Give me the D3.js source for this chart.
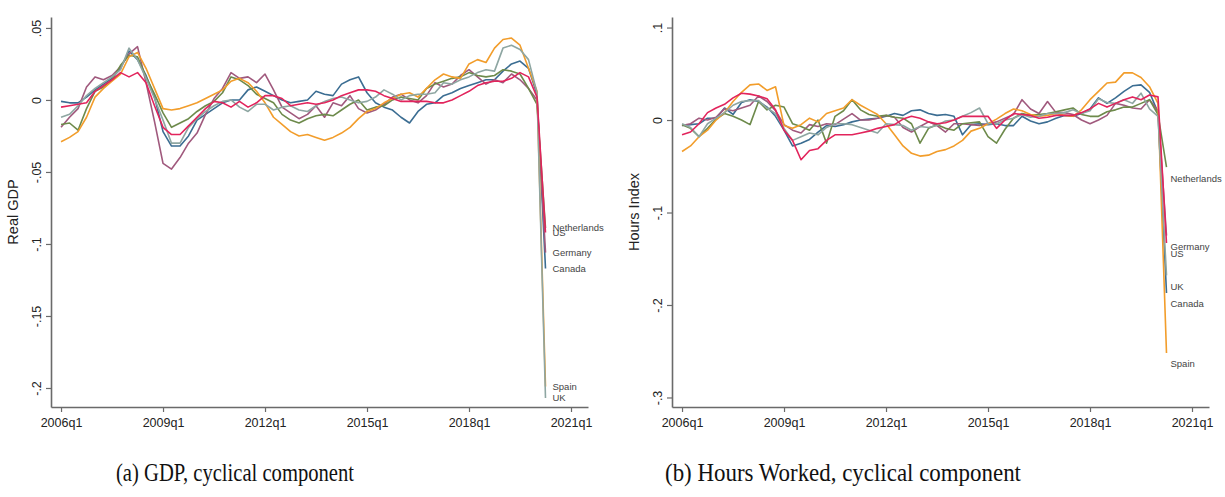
<!DOCTYPE html>
<html><head><meta charset="utf-8">
<script src="https://cdn.jsdelivr.net/npm/d3@7/dist/d3.min.js"></script>
<style>body{margin:0;background:#fff}svg{display:block}</style>
</head><body>
<svg id="c" width="1225" height="497"></svg>
<script>
// ---------- data ----------
const countries = ["Canada","Germany","Netherlands","Spain","UK","US"];
const xTickValues = [0,12,24,36,48,60];
const xTickLabels = ["2006q1","2009q1","2012q1","2015q1","2018q1","2021q1"];
const gdpTicks = [-0.2,-0.15,-0.1,-0.05,0,0.05];
const gdpTickLabels = ["-.2","-.15","-.1","-.05","0",".05"];
const hoursTicks = [-0.3,-0.2,-0.1,0,0.1];
const hoursTickLabels = ["-.3","-.2","-.1","0",".1"];

// GDP cyclical component, 2006q1 .. 2020q2
const gdpCanada = [-0.001,-0.002,-0.002,0.002,0.007,0.011,0.015,0.022,0.034,0.028,0.017,0.002,-0.022,-0.032,-0.032,-0.025,-0.014,-0.010,-0.006,-0.002,0.000,0.000,0.007,0.009,0.006,0.003,0.000,-0.002,-0.001,0.000,0.006,0.004,0.003,0.011,0.014,0.016,0.005,-0.002,-0.005,-0.007,-0.012,-0.016,-0.008,-0.003,-0.002,0.003,0.005,0.008,0.010,0.012,0.014,0.014,0.020,0.025,0.027,0.022,0.004,-0.117];
const gdpGermany = [-0.019,-0.012,-0.006,0.009,0.016,0.014,0.017,0.023,0.032,0.037,0.012,-0.015,-0.044,-0.048,-0.040,-0.030,-0.023,-0.010,0.001,0.008,0.019,0.015,0.016,0.012,0.018,0.007,-0.005,-0.009,-0.013,-0.010,-0.004,-0.012,-0.002,-0.004,0.003,-0.006,-0.009,-0.007,-0.003,0.002,0.004,0.000,-0.002,0.003,0.012,0.009,0.011,0.017,0.021,0.016,0.011,0.014,0.012,0.018,0.014,0.008,0.000,-0.106];
const gdpNetherlands = [-0.017,-0.016,-0.021,-0.006,0.006,0.009,0.014,0.024,0.031,0.030,0.016,0.004,-0.009,-0.019,-0.016,-0.013,-0.008,-0.004,-0.001,0.005,0.016,0.014,0.010,0.004,0.001,-0.002,-0.010,-0.014,-0.016,-0.013,-0.011,-0.010,-0.011,-0.007,-0.003,0.000,-0.007,-0.005,-0.004,0.000,0.002,0.001,0.000,0.008,0.011,0.013,0.015,0.016,0.019,0.017,0.016,0.017,0.021,0.020,0.018,0.008,-0.003,-0.089];
const gdpSpain = [-0.029,-0.026,-0.022,-0.012,0.002,0.008,0.013,0.018,0.030,0.033,0.022,0.008,-0.006,-0.007,-0.006,-0.004,-0.002,0.001,0.004,0.007,0.013,0.015,0.012,0.006,-0.002,-0.012,-0.017,-0.022,-0.025,-0.024,-0.026,-0.028,-0.026,-0.023,-0.019,-0.013,-0.008,-0.006,-0.002,0.001,0.004,0.005,0.002,0.008,0.014,0.018,0.016,0.015,0.025,0.028,0.026,0.036,0.042,0.043,0.038,0.022,0.006,-0.199];
const gdpUK = [-0.012,-0.010,-0.004,0.003,0.008,0.012,0.016,0.021,0.036,0.028,0.015,0.001,-0.014,-0.030,-0.030,-0.019,-0.013,-0.008,-0.004,-0.001,0.000,-0.005,-0.008,-0.003,-0.003,-0.007,-0.005,-0.004,-0.007,-0.008,-0.004,-0.001,0.001,0.002,0.000,-0.002,-0.001,0.002,0.007,0.004,0.000,0.003,0.004,0.004,0.005,0.012,0.011,0.014,0.016,0.019,0.021,0.020,0.036,0.038,0.035,0.028,0.005,-0.207];
const gdpUS = [-0.005,-0.004,-0.003,-0.002,0.006,0.010,0.014,0.019,0.016,0.019,0.012,-0.004,-0.019,-0.024,-0.024,-0.018,-0.012,-0.006,-0.001,-0.002,-0.005,-0.001,-0.005,-0.002,0.003,0.003,0.001,-0.004,-0.003,-0.002,-0.003,-0.002,0.000,0.003,0.005,0.007,0.007,0.006,0.003,0.001,-0.001,-0.001,-0.001,-0.001,-0.002,-0.002,0.000,0.003,0.006,0.010,0.012,0.013,0.013,0.015,0.019,0.016,0.002,-0.092];

// Hours index cyclical component, 2006q1 .. 2020q2
const hoursCanada = [-0.006,-0.005,-0.004,0.002,0.002,0.013,0.006,0.019,0.022,0.020,0.014,0.004,-0.011,-0.028,-0.025,-0.021,-0.013,-0.006,-0.007,-0.005,-0.002,0.000,0.001,0.002,0.004,0.007,0.005,0.010,0.011,0.007,0.005,0.006,0.004,-0.016,-0.005,-0.004,-0.005,-0.004,-0.006,-0.006,0.004,-0.001,-0.004,-0.002,0.002,0.005,0.004,0.007,0.012,0.024,0.018,0.024,0.031,0.037,0.038,0.030,0.008,-0.187];
const hoursGermany = [-0.006,-0.004,0.002,0.000,0.003,0.012,0.010,0.013,0.016,0.026,0.020,0.010,-0.005,-0.011,-0.014,-0.005,-0.007,-0.004,-0.005,0.001,0.007,0.000,0.000,0.002,0.005,0.003,-0.008,-0.013,-0.007,-0.002,-0.006,-0.013,-0.004,-0.004,-0.005,-0.006,-0.004,-0.002,0.002,0.006,0.022,0.012,0.007,0.020,0.008,0.008,0.006,0.000,-0.004,0.000,0.005,0.018,0.016,0.013,0.012,0.022,0.010,-0.125];
const hoursNetherlands = [-0.005,-0.009,-0.018,-0.009,0.001,0.007,0.004,0.000,-0.005,0.020,0.011,0.016,0.014,-0.004,-0.007,-0.011,0.000,-0.025,0.004,0.010,0.022,0.011,0.006,0.004,0.005,0.003,0.002,-0.004,-0.025,-0.009,-0.005,-0.009,-0.011,-0.004,-0.003,-0.002,-0.018,-0.025,-0.010,0.002,0.007,0.005,0.006,0.007,0.009,0.011,0.013,0.006,0.004,0.004,0.009,0.011,0.014,0.014,0.018,0.022,0.006,-0.051];
const hoursSpain = [-0.034,-0.028,-0.018,-0.011,0.000,0.008,0.020,0.030,0.038,0.039,0.032,0.036,-0.006,-0.009,-0.005,0.002,-0.002,0.007,0.010,0.013,0.022,0.016,0.011,0.006,-0.004,-0.016,-0.028,-0.036,-0.039,-0.038,-0.034,-0.032,-0.028,-0.022,-0.012,-0.009,-0.004,0.001,0.007,0.012,0.010,0.006,0.004,0.005,0.007,0.005,0.004,0.011,0.022,0.031,0.040,0.041,0.051,0.051,0.046,0.036,0.018,-0.252];
const hoursUK = [-0.004,-0.008,-0.018,-0.004,0.002,0.008,0.016,0.020,0.021,0.021,0.013,0.007,-0.009,-0.022,-0.018,-0.014,-0.016,-0.008,-0.004,-0.004,-0.005,-0.008,-0.011,-0.014,-0.004,-0.005,-0.006,-0.011,-0.007,-0.008,-0.006,-0.001,0.000,0.004,0.008,0.013,-0.004,-0.004,0.000,0.002,0.006,0.003,0.004,0.007,0.007,0.008,0.011,0.007,0.010,0.023,0.019,0.018,0.022,0.018,0.029,0.012,0.004,-0.168];
const hoursUS = [-0.016,-0.013,-0.004,0.008,0.013,0.017,0.024,0.029,0.028,0.026,0.023,0.011,-0.011,-0.022,-0.043,-0.033,-0.031,-0.022,-0.016,-0.016,-0.016,-0.014,-0.012,-0.009,-0.007,-0.005,0.001,0.004,0.002,-0.002,-0.004,-0.003,0.000,0.004,0.004,0.004,0.004,-0.009,0.000,0.007,0.006,0.005,0.002,0.003,0.005,0.005,0.005,0.008,0.012,0.018,0.014,0.018,0.022,0.025,0.022,0.027,0.025,-0.133];

const colors = {Canada:"#3b6d92",Germany:"#a0597d",Netherlands:"#6d8a4b",Spain:"#f29d2b",UK:"#8ea6a2",US:"#e2245c"};

// ---------- drawing ----------
const svg = d3.select("#c");
const fontSans = "'Liberation Sans', Arial, Helvetica, sans-serif";

function panel(cfg){
  const g = svg.append("g");
  const x = d3.scaleLinear().domain([-1.18, 62]).range([cfg.left, cfg.left + 537]);
  const y = d3.scaleLinear().domain(cfg.yDomain).range([407, 17]);
  const axisColor = "#6a6a6a";

  // y axis
  const ya = g.append("g").attr("transform", `translate(${cfg.left},0)`)
    .call(d3.axisLeft(y).tickValues(cfg.ticks).tickFormat((d,i)=>cfg.tickLabels[i]).tickSize(5).tickSizeOuter(0));
  ya.select(".domain").attr("stroke", axisColor).attr("stroke-width", 1.6);
  ya.selectAll(".tick line").attr("stroke", axisColor).attr("stroke-width", 1.2);
  ya.selectAll(".tick text").attr("transform","rotate(-90)").attr("x",0).attr("y",-10).attr("dy",0)
    .attr("text-anchor","middle").attr("fill","#222").style("font-family",fontSans).style("font-size","12.5px");

  // x axis
  const xa = g.append("g").attr("transform","translate(0,407)")
    .call(d3.axisBottom(x).tickValues(xTickValues).tickFormat((d,i)=>xTickLabels[i]).tickSize(5).tickSizeOuter(0));
  xa.select(".domain").attr("stroke", axisColor).attr("stroke-width", 1.6);
  xa.selectAll(".tick line").attr("stroke", axisColor).attr("stroke-width", 1.2);
  xa.selectAll(".tick text").attr("y",11).attr("fill","#222").style("font-family",fontSans).style("font-size","12.5px");

  // axis title
  g.append("text").attr("transform",`translate(${cfg.left - 33},212) rotate(-90)`)
    .attr("text-anchor","middle").attr("fill","#222").style("font-family",fontSans).style("font-size","14.5px")
    .text(cfg.title);

  // lines
  const line = d3.line().x((d,i)=>x(i)).y(d=>y(d));
  countries.forEach((c,k)=>{
    g.append("path").datum(cfg.series[k]).attr("d", line).attr("fill","none")
      .attr("stroke", colors[c]).attr("stroke-width",1.6).attr("stroke-linejoin","round");
  });
  // end labels
  countries.forEach((c,k)=>{
    const s = cfg.series[k];
    g.append("text").attr("x", x(s.length-1) + cfg.labelDx).attr("y", y(s[s.length-1]) + cfg.labelDy)
      .attr("dy","0.35em").attr("fill","#444")
      .style("font-family","'Liberation Sans Narrow', 'Liberation Sans', Arial, sans-serif").style("font-size","9.5px")
      .text(c);
  });

  // caption
  svg.append("text").attr("x", cfg.capX).attr("y", 481).attr("text-anchor","middle")
    .attr("fill","#111").style("font-family","'Liberation Serif','Times New Roman',serif").style("font-size","25px")
    .attr("textLength", cfg.capW).attr("lengthAdjust","spacingAndGlyphs")
    .text(cfg.caption);
}

panel({left:51, yDomain:[-0.2132,0.0576], ticks:gdpTicks, tickLabels:gdpTickLabels, title:"Real GDP",
  series:[gdpCanada,gdpGermany,gdpNetherlands,gdpSpain,gdpUK,gdpUS], labelDx:7, labelDy:0,
  caption:"(a) GDP, cyclical component", capX:235, capW:238});
panel({left:672, yDomain:[-0.3103,0.1114], ticks:hoursTicks, tickLabels:hoursTickLabels, title:"Hours Index",
  series:[hoursCanada,hoursGermany,hoursNetherlands,hoursSpain,hoursUK,hoursUS], labelDx:4, labelDy:11,
  caption:"(b) Hours Worked, cyclical component", capX:843, capW:356});
</script>
</body></html>
